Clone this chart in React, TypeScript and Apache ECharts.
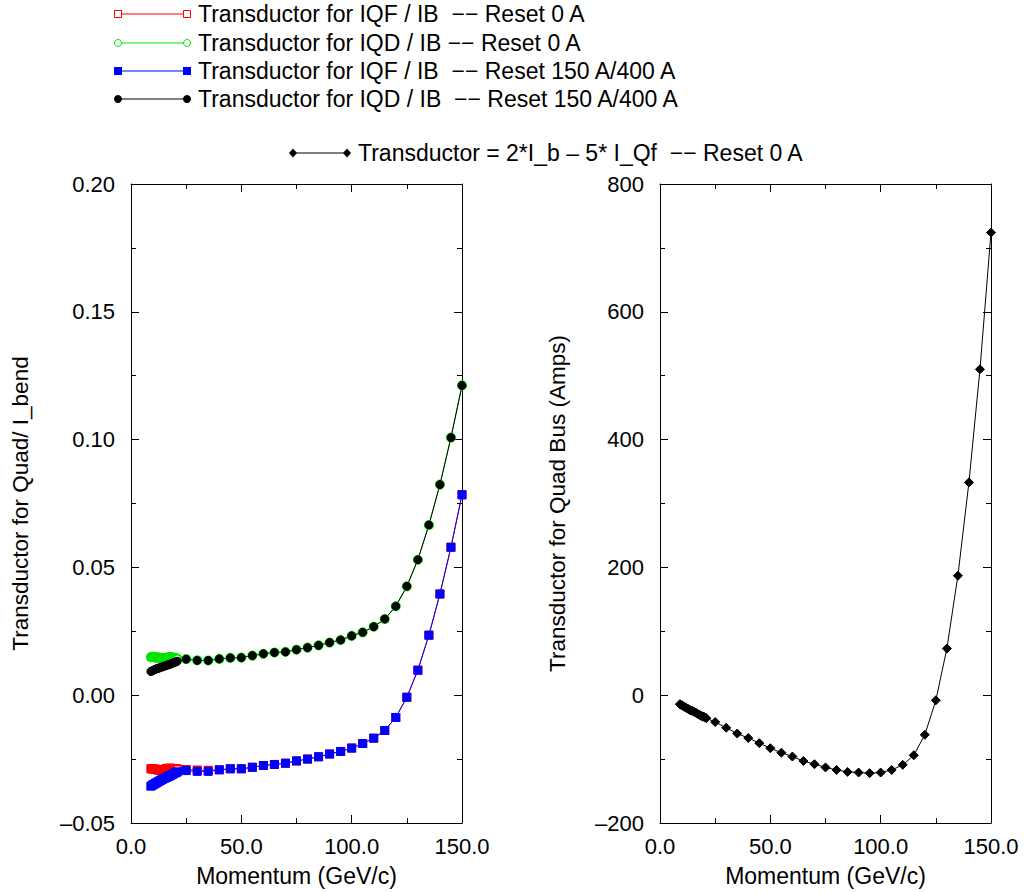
import React, { useEffect, useRef } from "react";
import * as echarts from "echarts";

// Momentum points (GeV/c): dense low-energy scan, then the 5 GeV/c steps
const clusterMomentum = [
  9, 9.5, 10, 10.5, 11, 11.5, 12, 12.5, 13, 13.5, 14, 14.5, 15, 15.5, 16, 16.5,
  17, 17.5, 18, 18.5, 19, 19.5, 20, 20.5, 21,
];
const momentum = [
  25, 30, 35, 40, 45, 50, 55, 60, 65, 70, 75, 80, 85, 90, 95, 100, 105, 110,
  115, 120, 125, 130, 135, 140, 145, 150,
];

// Transductor / I_bend, IQF, reset 0 A
const iqfReset0Low = [
  -0.0288, -0.0288, -0.0289, -0.0289, -0.029, -0.0291, -0.0292, -0.0293,
  -0.0294, -0.0295, -0.0295, -0.0294, -0.0292, -0.029, -0.0288, -0.0287,
  -0.0286, -0.0286, -0.0286, -0.0287, -0.0287, -0.0288, -0.0288, -0.0289,
  -0.0289,
];
const iqfReset0 = [
  -0.0291, -0.0293, -0.0294, -0.0292, -0.0288, -0.0288, -0.0282, -0.0275,
  -0.0271, -0.0266, -0.0257, -0.025, -0.0241, -0.023, -0.022, -0.0207,
  -0.0189, -0.0168, -0.0138, -0.0087, -0.0008, 0.0098, 0.0235, 0.0396, 0.0579,
  0.0784,
];

// Transductor / I_bend, IQD, reset 0 A
const iqdReset0Low = [
  0.0149, 0.015, 0.015, 0.0149, 0.0148, 0.0148, 0.0147, 0.0147, 0.0146,
  0.0146, 0.0145, 0.0145, 0.0144, 0.0145, 0.0146, 0.0147, 0.0148, 0.0149,
  0.0149, 0.0148, 0.0147, 0.0146, 0.0145, 0.0144, 0.0143,
];
const iqdReset0 = [
  0.0141, 0.0137, 0.0136, 0.0142, 0.0146, 0.0147, 0.0155, 0.0162, 0.0167,
  0.017, 0.0178, 0.0186, 0.0195, 0.0206, 0.0216, 0.0232, 0.0246, 0.0268,
  0.0298, 0.0348, 0.0426, 0.053, 0.0666, 0.0824, 0.1008, 0.1212,
];

// Transductor / I_bend, IQF, reset 150 A / 400 A
const iqfReset150Low = [
  -0.0356, -0.0353, -0.035, -0.0348, -0.0345, -0.0343, -0.034, -0.0338,
  -0.0335, -0.0333, -0.033, -0.0328, -0.0326, -0.0324, -0.0322, -0.032,
  -0.0318, -0.0316, -0.0314, -0.0311, -0.0309, -0.0306, -0.0304, -0.0302,
  -0.03,
];
const iqfReset150 = [
  -0.0295, -0.0298, -0.0298, -0.0292, -0.0288, -0.0288, -0.0282, -0.0275,
  -0.0271, -0.0266, -0.0257, -0.025, -0.0241, -0.023, -0.022, -0.0207,
  -0.0189, -0.0168, -0.0138, -0.0087, -0.0008, 0.0098, 0.0235, 0.0396, 0.0579,
  0.0784,
];

// Transductor / I_bend, IQD, reset 150 A / 400 A
const iqdReset150Low = [
  0.0093, 0.0095, 0.0097, 0.0099, 0.0101, 0.0103, 0.0104, 0.0106, 0.0107,
  0.0109, 0.011, 0.0112, 0.0113, 0.0115, 0.0116, 0.0118, 0.0119, 0.0121,
  0.0122, 0.0124, 0.0126, 0.0128, 0.0129, 0.0131, 0.0133,
];
const iqdReset150 = [
  0.0141, 0.0136, 0.0136, 0.0142, 0.0146, 0.0147, 0.0155, 0.0162, 0.0167,
  0.0169, 0.0178, 0.0186, 0.0195, 0.0206, 0.0216, 0.0232, 0.0246, 0.0268,
  0.0298, 0.0348, 0.0426, 0.053, 0.0666, 0.0824, 0.1008, 0.1212,
];

// Quad bus transductor current (A) = 2*I_b - 5*I_Qf, reset 0 A
const quadBusLow = [
  -14, -15, -16, -17, -18, -19, -20, -21, -22, -23, -24, -24.5, -25, -26, -27,
  -28, -29, -30, -31, -32, -33, -33.5, -34, -35, -36,
];
const quadBus = [
  -42, -51, -60, -67, -75, -83, -90, -96, -103, -108, -113, -117, -120, -121,
  -122, -121, -117, -109, -94, -62, -8, 73, 187, 333, 510, 724,
];

const seriesNames = [
  "Transductor for IQF / IB  −− Reset 0 A",
  "Transductor for IQD / IB −− Reset 0 A",
  "Transductor for IQF / IB  −− Reset 150 A/400 A",
  "Transductor for IQD / IB  −− Reset 150 A/400 A",
  "Transductor = 2*I_b – 5* I_Qf  −− Reset 0 A",
];

const FONT = "'Liberation Sans', Arial, Helvetica, sans-serif";

const pairs = (lowY: number[], mainY: number[]) => [
  ...clusterMomentum.map((x, i) => [x, lowY[i]]),
  ...momentum.map((x, i) => [x, mainY[i]]),
];

const dash = (s: string) => s.replace("-", "–");

function xAxes(gridIndex: number) {
  const common = {
    gridIndex,
    type: "value" as const,
    min: 0,
    max: 150,
    interval: 50,
    splitLine: { show: false },
    axisLine: { show: true, onZero: false, lineStyle: { color: "#000", width: 1 } },
    axisTick: { show: true, inside: true, length: 8, lineStyle: { color: "#000" } },
    minorTick: { show: true, splitNumber: 2, length: 5, lineStyle: { color: "#000" } },
  };
  return [
    {
      ...common,
      position: "bottom" as const,
      name: "Momentum (GeV/c)",
      nameLocation: "middle" as const,
      nameGap: 41,
      nameTextStyle: { fontFamily: FONT, fontSize: 23, color: "#000" },
      axisLabel: {
        margin: 12,
        fontFamily: FONT,
        fontSize: 22,
        color: "#000",
        formatter: (v: number) => v.toFixed(1),
      },
    },
    { ...common, position: "top" as const, axisLabel: { show: false } },
  ];
}

function yAxes(
  gridIndex: number,
  min: number,
  max: number,
  interval: number,
  name: string,
  nameGap: number,
  fmt: (v: number) => string
) {
  const common = {
    gridIndex,
    type: "value" as const,
    min,
    max,
    interval,
    splitLine: { show: false },
    axisLine: { show: true, onZero: false, lineStyle: { color: "#000", width: 1 } },
    axisTick: { show: true, inside: true, length: 8, lineStyle: { color: "#000" } },
    minorTick: { show: true, splitNumber: 2, length: 5, lineStyle: { color: "#000" } },
  };
  return [
    {
      ...common,
      position: "left" as const,
      name,
      nameLocation: "middle" as const,
      nameGap,
      nameTextStyle: { fontFamily: FONT, fontSize: 22.5, color: "#000" },
      axisLabel: {
        margin: 16,
        fontFamily: FONT,
        fontSize: 22,
        color: "#000",
        formatter: fmt,
      },
    },
    { ...common, position: "right" as const, axisLabel: { show: false } },
  ];
}

// Legend entry: a short line with a marker at each end, then the label
function legendEntry(
  y: number,
  x0: number,
  x1: number,
  color: string,
  marker: "emptyRect" | "emptyCircle" | "rect" | "circle" | "diamond",
  text: string
) {
  const mk = (cx: number) => {
    switch (marker) {
      case "emptyRect":
        return { type: "rect", shape: { x: cx - 3.5, y: y - 3.5, width: 7, height: 7 }, style: { fill: "#fff", stroke: color, lineWidth: 1 } };
      case "emptyCircle":
        return { type: "circle", shape: { cx, cy: y, r: 3.5 }, style: { fill: "#fff", stroke: color, lineWidth: 1 } };
      case "rect":
        return { type: "rect", shape: { x: cx - 4, y: y - 4, width: 8, height: 8 }, style: { fill: color } };
      case "circle":
        return { type: "circle", shape: { cx, cy: y, r: 4 }, style: { fill: color } };
      default:
        return {
          type: "polygon",
          shape: { points: [[cx, y - 4.5], [cx + 4, y], [cx, y + 4.5], [cx - 4, y]] },
          style: { fill: color },
        };
    }
  };
  return [
    { type: "line", shape: { x1: x0, y1: y, x2: x1, y2: y }, style: { stroke: color, lineWidth: 1 } },
    mk(x0),
    mk(x1),
    {
      type: "text",
      x: x1 + 11,
      y,
      style: { text, fontFamily: FONT, fontSize: 23, fill: "#000", verticalAlign: "middle", align: "left" },
    },
  ];
}

export default function App() {
  const ref = useRef<HTMLDivElement>(null);

  useEffect(() => {
    if (!ref.current) return;
    const chart = echarts.init(ref.current, undefined, { renderer: "svg" });

    const line = (
      name: string,
      color: string,
      symbol: string,
      symbolSize: number,
      data: number[][],
      axis: number
    ) => ({
      name,
      type: "line" as const,
      xAxisIndex: axis,
      yAxisIndex: axis,
      data,
      symbol,
      symbolSize,
      showSymbol: true,
      lineStyle: { color, width: 1 },
      itemStyle: { color, borderColor: color, borderWidth: 1 },
      emphasis: { disabled: true },
    });

    chart.setOption({
      animation: false,
      backgroundColor: "#fff",
      grid: [
        { left: 131, top: 184, width: 331, height: 644 },
        { left: 660, top: 184, width: 331, height: 644 },
      ],
      xAxis: [...xAxes(0), ...xAxes(1)],
      yAxis: [
        ...yAxes(0, -0.05, 0.2, 0.05, "Transductor for Quad/ I_bend", 99, (v: number) =>
          dash(v.toFixed(2))
        ),
        ...yAxes(1, -200, 800, 200, "Transductor for Quad Bus (Amps)", 91, (v: number) =>
          dash(String(Math.round(v)))
        ),
      ],
      series: [
        line(seriesNames[0], "#ff0000", "emptyRect", 7, pairs(iqfReset0Low, iqfReset0), 0),
        line(seriesNames[1], "#00e600", "emptyCircle", 8, pairs(iqdReset0Low, iqdReset0), 0),
        line(seriesNames[2], "#0000ff", "rect", 8, pairs(iqfReset150Low, iqfReset150), 0),
        line(seriesNames[3], "#000000", "circle", 8, pairs(iqdReset150Low, iqdReset150), 0),
        line(seriesNames[4], "#000000", "diamond", 9, pairs(quadBusLow, quadBus), 2),
      ],
      graphic: [
        ...legendEntry(14, 118, 187, "#ff0000", "emptyRect", seriesNames[0]),
        ...legendEntry(43, 118, 187, "#00e600", "emptyCircle", seriesNames[1]),
        ...legendEntry(71, 118, 187, "#0000ff", "rect", seriesNames[2]),
        ...legendEntry(99, 118, 187, "#000000", "circle", seriesNames[3]),
        ...legendEntry(153, 293, 347, "#000000", "diamond", seriesNames[4]),
      ],
    });

    return () => chart.dispose();
  }, []);

  return (
    <div
      ref={ref}
      style={{ position: "absolute", left: 0, top: 0, width: 1025, height: 892 }}
    />
  );
}
